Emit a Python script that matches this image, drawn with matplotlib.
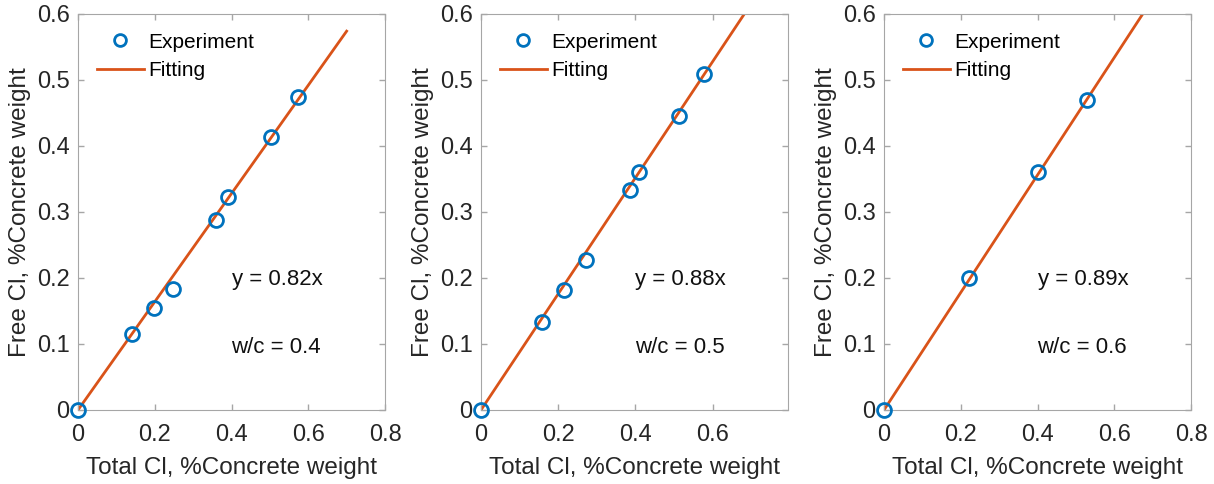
import numpy as np
import matplotlib.pyplot as plt

plt.rcParams['font.family'] = ['Liberation Sans', 'DejaVu Sans']

# experiment data, total Cl vs free Cl (% concrete weight)
total_04 = [0, 0.142, 0.198, 0.247, 0.360, 0.392, 0.502, 0.572]
free_04 = [0, 0.115, 0.155, 0.183, 0.288, 0.323, 0.413, 0.475]
total_05 = [0, 0.157, 0.215, 0.273, 0.387, 0.408, 0.514, 0.577]
free_05 = [0, 0.133, 0.182, 0.228, 0.334, 0.360, 0.445, 0.509]
total_06 = [0, 0.222, 0.400, 0.530]
free_06 = [0, 0.200, 0.360, 0.469]

slopes = [0.82, 0.88, 0.89]
wc_labels = ['w/c = 0.4', 'w/c = 0.5', 'w/c = 0.6']
fit_end = [0.7, 0.7, 0.7]
xmax = [0.8, 0.795, 0.8]
xticks = [[0, 0.2, 0.4, 0.6, 0.8], [0, 0.2, 0.4, 0.6], [0, 0.2, 0.4, 0.6, 0.8]]
yticks = [0, 0.1, 0.2, 0.3, 0.4, 0.5, 0.6]

blue = '#0072BD'
orange = '#D95319'
txt = '#262626'
edge = '#a6a6a6'

fig = plt.figure(figsize=(12.14, 4.84), dpi=100)
lefts = [78 / 1214, 481 / 1214, 884 / 1214]
data = [(total_04, free_04), (total_05, free_05), (total_06, free_06)]

for i in range(3):
	ax = fig.add_axes([lefts[i], 74 / 484, 307 / 1214, 396 / 484])
	xs, ys = data[i]
	ax.plot(xs, ys, 'o', mfc='none', mec=blue, ms=10, mew=2, label='Experiment', clip_on=False, zorder=3)
	xf = np.array([0, fit_end[i]])
	ax.plot(xf, slopes[i] * xf, color=orange, lw=2, label='Fitting', zorder=2)
	ax.set_xlim(0, xmax[i])
	ax.set_ylim(0, 0.6)
	ax.set_xticks(xticks[i])
	ax.set_yticks(yticks)
	ax.set_xticklabels(['%g' % t for t in xticks[i]])
	ax.set_yticklabels(['%g' % t for t in yticks])
	ax.tick_params(direction='in', length=4, width=1, colors=edge, labelcolor=txt,
		labelsize=17, top=True, right=True)
	ax.tick_params(axis='x', pad=10)
	ax.tick_params(axis='y', pad=6)
	for s in ax.spines.values():
		s.set_color(edge)
	ax.set_xlabel('Total Cl, %Concrete weight', fontsize=17.5, color=txt, labelpad=8)
	ax.set_ylabel('Free Cl, %Concrete weight', fontsize=17.5, color=txt, labelpad=4)
	ax.text(0.40, 0.197, 'y = %.2fx' % slopes[i], fontsize=16, color='#111111', va='center')
	ax.text(0.40, 0.095, wc_labels[i], fontsize=16, color='#111111', va='center')
	ax.legend(loc='upper left', frameon=False, fontsize=15, handlelength=2.25,
		handletextpad=0.2, labelspacing=0.45, borderaxespad=0.6, borderpad=0.3,
		markerscale=0.85)

plt.savefig('out.png', dpi=100)
